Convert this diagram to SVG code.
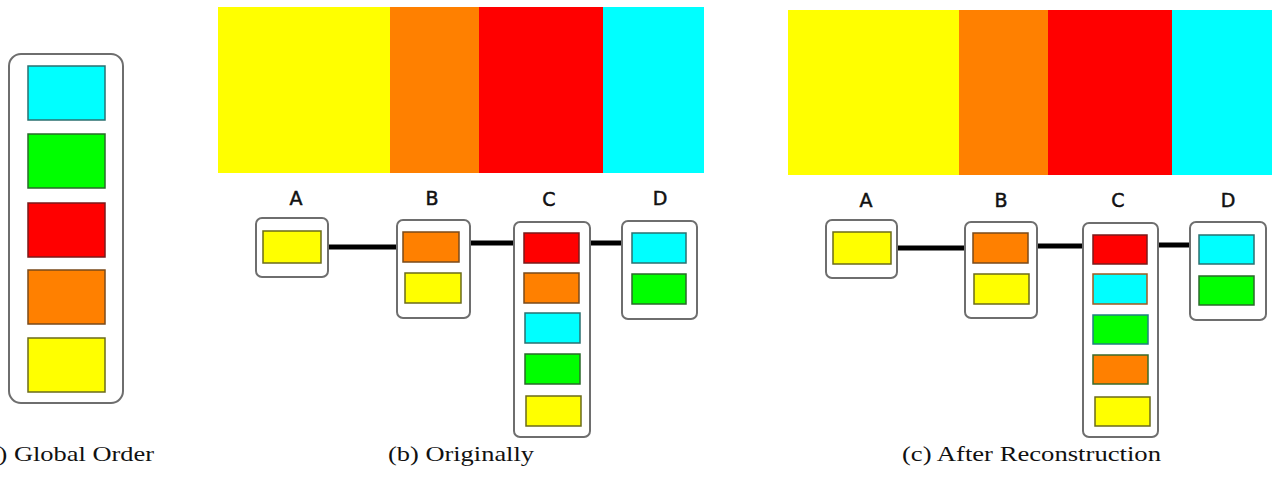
<svg xmlns="http://www.w3.org/2000/svg" width="1277" height="477" viewBox="0 0 1277 477">
  <style>
    .frame { fill: #ffffff; stroke: #6e6e6e; stroke-width: 2; }
    .cell { stroke-width: 1.5; }
    .y { fill: #ffff00; stroke: #6b6b1a; }
    .o { fill: #ff8000; stroke: #7a4a1a; }
    .r { fill: #ff0000; stroke: #7a1a1a; }
    .c { fill: #00ffff; stroke: #2a7070; }
    .g { fill: #00ff00; stroke: #2a6a2a; }
    .edge { stroke: #000000; stroke-width: 5; fill: none; }
    .lbl { font-family: "DejaVu Sans", sans-serif; font-size: 19px; fill: #111111; stroke: #111111; stroke-width: 0.5; text-anchor: middle; }
    .cap { font-family: "Liberation Serif", serif; font-size: 21px; fill: #111111; }
  </style>

  <!-- (a) global order stack -->
  <g id="global-order">
    <rect class="frame" x="9" y="54" width="114" height="349" rx="12"/>
    <rect class="cell c" x="28" y="66" width="77" height="54"/>
    <rect class="cell g" x="28" y="134" width="77" height="54"/>
    <rect class="cell r" x="28" y="203" width="77" height="54"/>
    <rect class="cell o" x="28" y="270" width="77" height="54"/>
    <rect class="cell y" x="28" y="338" width="77" height="54"/>
  </g>

  <!-- (b) colour bar -->
  <g id="bar-b">
    <rect x="218" y="7" width="172" height="166" fill="#ffff00"/>
    <rect x="390" y="7" width="89" height="166" fill="#ff8000"/>
    <rect x="479" y="7" width="124" height="166" fill="#ff0000"/>
    <rect x="603" y="7" width="101" height="166" fill="#00ffff"/>
  </g>

  <!-- (c) colour bar -->
  <g id="bar-c">
    <rect x="788" y="10" width="171" height="165" fill="#ffff00"/>
    <rect x="959" y="10" width="89" height="165" fill="#ff8000"/>
    <rect x="1048" y="10" width="124" height="165" fill="#ff0000"/>
    <rect x="1172" y="10" width="100" height="165" fill="#00ffff"/>
  </g>

  <!-- chain links -->
  <g id="connectors">
    <line class="edge" x1="328" y1="247" x2="397" y2="247"/>
    <line class="edge" x1="470" y1="243" x2="514" y2="243"/>
    <line class="edge" x1="590" y1="243" x2="622" y2="243"/>
    <line class="edge" x1="897" y1="248" x2="965" y2="248"/>
    <line class="edge" x1="1037" y1="246" x2="1083" y2="246"/>
    <line class="edge" x1="1158" y1="245" x2="1190" y2="245"/>
  </g>

  <!-- (b) nodes -->
  <g id="b-node-A">
    <text class="lbl" x="296" y="205">A</text>
    <rect class="frame" x="256" y="218" width="72" height="59" rx="6"/>
    <rect class="cell y" x="263" y="231" width="58" height="32"/>
  </g>
  <g id="b-node-B">
    <text class="lbl" x="432" y="205">B</text>
    <rect class="frame" x="397" y="220" width="73" height="98" rx="6"/>
    <rect class="cell o" x="403" y="232" width="56" height="30"/>
    <rect class="cell y" x="405" y="273" width="56" height="30"/>
  </g>
  <g id="b-node-C">
    <text class="lbl" x="549" y="206">C</text>
    <rect class="frame" x="514" y="222" width="76" height="215" rx="6"/>
    <rect class="cell r" x="524" y="233" width="55" height="30"/>
    <rect class="cell o" x="524" y="273" width="55" height="30"/>
    <rect class="cell c" x="525" y="313" width="55" height="30"/>
    <rect class="cell g" x="525" y="354" width="55" height="30"/>
    <rect class="cell y" x="526" y="396" width="55" height="30"/>
  </g>
  <g id="b-node-D">
    <text class="lbl" x="660" y="205">D</text>
    <rect class="frame" x="622" y="221" width="75" height="98" rx="6"/>
    <rect class="cell c" x="632" y="233" width="54" height="30"/>
    <rect class="cell g" x="632" y="274" width="54" height="30"/>
  </g>

  <!-- (c) nodes -->
  <g id="c-node-A">
    <text class="lbl" x="866" y="207">A</text>
    <rect class="frame" x="826" y="220" width="71" height="58" rx="6"/>
    <rect class="cell y" x="833" y="232" width="58" height="32"/>
  </g>
  <g id="c-node-B">
    <text class="lbl" x="1001" y="207">B</text>
    <rect class="frame" x="965" y="222" width="72" height="96" rx="6"/>
    <rect class="cell o" x="973" y="233" width="55" height="30"/>
    <rect class="cell y" x="974" y="274" width="55" height="30"/>
  </g>
  <g id="c-node-C">
    <text class="lbl" x="1118" y="207">C</text>
    <rect class="frame" x="1083" y="223" width="75" height="214" rx="6"/>
    <rect class="cell r" x="1093" y="235" width="54" height="29"/>
    <rect class="cell" x="1093" y="274" width="54" height="30" fill="#00ffff" stroke="#a05a20"/>
    <rect class="cell" x="1093" y="315" width="55" height="29" fill="#00ff00" stroke="#208080"/>
    <rect class="cell" x="1093" y="355" width="55" height="29" fill="#ff8000" stroke="#3a6a2a"/>
    <rect class="cell y" x="1095" y="397" width="55" height="29"/>
  </g>
  <g id="c-node-D">
    <text class="lbl" x="1228" y="207">D</text>
    <rect class="frame" x="1190" y="222" width="76" height="98" rx="6"/>
    <rect class="cell c" x="1199" y="235" width="55" height="29"/>
    <rect class="cell g" x="1199" y="276" width="55" height="29"/>
  </g>

  <!-- sub-figure captions -->
  <text class="cap" x="-22" y="461" textLength="176" lengthAdjust="spacingAndGlyphs">(a) Global Order</text>
  <text class="cap" x="388" y="461" textLength="146" lengthAdjust="spacingAndGlyphs">(b) Originally</text>
  <text class="cap" x="902" y="461" textLength="259" lengthAdjust="spacingAndGlyphs">(c) After Reconstruction</text>
</svg>
